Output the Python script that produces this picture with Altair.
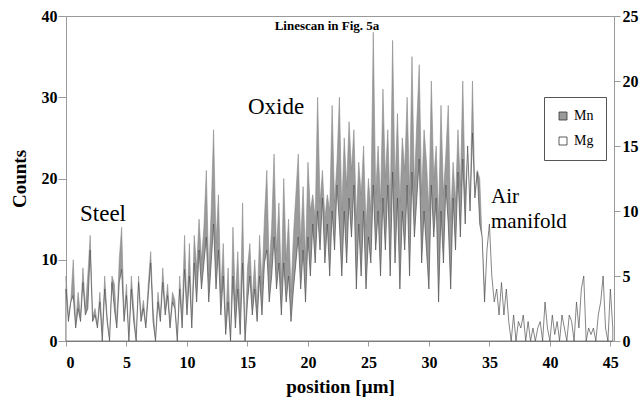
import altair as alt
import pandas as pd

# ---------------- data ----------------
STEP = 0.2  # µm between scan points

# Mn counts (left axis), positions 0.0, 0.2, 0.4 ... 45.2 µm
mn_counts = [
    8, 3, 5, 10, 2,      # 0
    6, 3, 9, 4, 8,       # 1
    13, 3, 4, 2, 6,      # 2
    1, 8, 3, 0, 8,       # 3
    7, 2, 10, 14, 3,     # 4
    7, 0, 8, 4, 0,       # 5
    8, 3, 5, 2, 7,       # 6
    11, 4, 0, 6, 3,      # 7
    9, 4, 7, 2, 6,       # 8
    5, 0, 8, 3, 13,      # 9
    4, 12, 2, 13, 9,     # 10
    15, 10, 14, 21, 8,   # 11
    16, 26, 12, 18, 6,   # 12
    12, 2, 9, 0, 14,     # 13
    5, 11, 3, 17, 0,     # 14
    9, 12, 5, 10, 4,     # 15
    13, 7, 15, 21, 9,    # 16
    14, 23, 11, 17, 7,   # 17
    20, 10, 15, 6, 13,   # 18
    18, 23, 12, 19, 10,  # 19
    22, 16, 18, 15, 30,  # 20
    17, 21, 15, 18, 16,  # 21
    29, 17, 22, 30, 16,  # 22
    25, 19, 27, 21, 26,  # 23
    15, 22, 18, 24, 14,  # 24
    20, 16, 38, 18, 24,  # 25
    17, 31, 20, 26, 16,  # 26
    37, 19, 28, 17, 25,  # 27
    21, 30, 18, 35, 19,  # 28
    27, 34, 18, 26, 22,  # 29
    16, 32, 20, 24, 15,  # 30
    29, 18, 23, 29, 15,  # 31
    22, 17, 26, 19, 32,  # 32
    18, 23, 16, 32, 18,  # 33
    21, 20, 12, 6, 3,    # 34
    3, 2, 1, 0, 0,       # 35
    0, 0, 0, 0, 0,       # 36
    0, 0, 0, 0, 0,       # 37
    0, 0, 0, 0, 0,       # 38
    0, 0, 0, 0, 0,       # 39
    0, 0, 0, 0, 0,       # 40
    0, 0, 0, 0, 0,       # 41
    0, 0, 0, 0, 0,       # 42
    0, 0, 0, 0, 0,       # 43
    0, 0, 0, 0, 0,       # 44
    0, 0,                # 45
]

# Mg counts (right axis)
mg_counts = [
    4, 1.5, 3, 3.5, 1,     # 0
    2.5, 1.5, 4.5, 2, 2.5, # 1
    7, 1.5, 2, 1, 3,       # 2
    0, 4, 1.5, 0, 4.5,     # 3
    2.5, 1, 4.5, 5.5, 1.5, # 4
    3.5, 0, 4, 1.5, 0,     # 5
    4.5, 1.5, 2.5, 1, 3.5, # 6
    6, 1.5, 0, 3, 1.5,     # 7
    4.5, 2, 3.5, 1, 3,     # 8
    2.5, 0, 4, 1, 5.5,     # 9
    2, 5, 1, 6, 3,         # 10
    7, 4, 6, 8, 3,         # 11
    6, 9, 4, 7, 2,         # 12
    5, 0.5, 3, 0, 5,       # 13
    1, 4, 0.5, 6, 0,       # 14
    3, 5, 2, 4, 1.5,       # 15
    5, 2, 6, 7, 3,         # 16
    5, 8, 4, 6, 2,         # 17
    6, 3, 5, 1.5, 4,       # 18
    6, 8, 4, 7, 3,         # 19
    8, 5, 9, 6, 10,        # 20
    7, 11, 6, 9, 5,        # 21
    10, 7, 12, 9, 5,       # 22
    10, 6, 11, 8, 12,      # 23
    4, 9, 5, 10, 4,        # 24
    8, 6, 12, 7, 10,       # 25
    5, 11, 7, 12, 5,       # 26
    13, 6, 11, 4, 10,      # 27
    7, 12, 5, 13, 8,       # 28
    11, 14, 6, 10, 7,      # 29
    4, 12, 8, 11, 3,       # 30
    10, 6, 12, 9, 4,       # 31
    11, 7, 13, 8, 14,      # 32
    9, 15, 10, 16, 11,     # 33
    13, 9, 8, 3, 7,        # 34
    9, 5, 3, 4, 2,         # 35
    4.5, 2, 4, 1.5, 0,     # 36
    2, 0, 1.5, 1, 2,       # 37
    0, 1.5, 0, 1, 0,       # 38
    1, 1.5, 0, 3, 1,       # 39
    0, 2, 0.5, 1.5, 0,     # 40
    2, 1, 0, 2, 1.5,       # 41
    0, 3, 1, 4, 5,         # 42
    0, 1, 0.5, 1, 0,       # 43
    2, 3, 5, 1, 0,         # 44
    4, 1,                  # 45
]

positions = [round(i * STEP, 1) for i in range(len(mn_counts))]

x_ticks = [0, 5, 10, 15, 20, 25, 30, 35, 40, 45]
left_ticks = [0, 10, 20, 30, 40]
right_ticks = [0, 5, 10, 15, 20, 25]

df_mn = pd.DataFrame({"position": positions, "value": mn_counts, "series": "Mn"})
df_mg = pd.DataFrame({"position": positions, "value": mg_counts, "series": "Mg"})

FONT = "Liberation Serif"
AX = "#9a9a9a"

x_enc = alt.X(
    "position:Q",
    scale=alt.Scale(domain=[0, 45.3], nice=False, zero=False),
    axis=alt.Axis(
        values=x_ticks, title="position [µm]", grid=False,
        labelFont=FONT, labelFontSize=16, labelFontWeight="bold", labelColor="black",
        titleFont=FONT, titleFontSize=19, titleFontWeight="bold", titleColor="black",
        tickSize=5, labelPadding=8, titlePadding=7,
        domainColor=AX, tickColor=AX,
    ),
)

fill_scale = alt.Scale(domain=["Mn", "Mg"], range=["#9a9a9a", "#ffffff"])
legend = alt.Legend(
    title=None, orient="none", legendX=478, legendY=81, direction="vertical",
    strokeColor="#555", fillColor="white", padding=12,
    symbolType="square", symbolSize=64, symbolStrokeColor="#333", symbolStrokeWidth=0.8,
    labelFont=FONT, labelFontSize=14, labelColor="black", rowPadding=11, labelOffset=4,
)

mn = alt.Chart(df_mn).mark_area(
    stroke="#8a8a8a", strokeWidth=0.6, interpolate="linear", opacity=1
).encode(
    x=x_enc,
    y=alt.Y(
        "value:Q",
        scale=alt.Scale(domain=[0, 40], nice=False),
        axis=alt.Axis(
            orient="left", values=left_ticks, title="Counts", grid=False,
            labelFont=FONT, labelFontSize=16, labelFontWeight="bold", labelColor="black",
            titleFont=FONT, titleFontSize=19, titleFontWeight="bold", titleColor="black",
            tickSize=8, labelPadding=1, titlePadding=12,
            domainColor=AX, tickColor=AX,
        ),
    ),
    fill=alt.Fill("series:N", scale=fill_scale, legend=legend),
)

mg = alt.Chart(df_mg).mark_area(
    stroke="#505050", strokeWidth=0.7, interpolate="linear", opacity=1
).encode(
    x=x_enc,
    y=alt.Y(
        "value:Q",
        scale=alt.Scale(domain=[0, 25], nice=False),
        axis=alt.Axis(
            orient="right", values=right_ticks, title=None, grid=False,
            labelFont=FONT, labelFontSize=16, labelFontWeight="bold", labelColor="black",
            tickSize=6, labelPadding=2,
            domainColor=AX, tickColor=AX,
        ),
    ),
    fill=alt.Fill("series:N", scale=fill_scale, legend=legend),
)

title_txt = alt.Chart(pd.DataFrame({"t": ["Linescan in Fig. 5a"]})).mark_text(
    font=FONT, fontSize=13, fontWeight="bold", color="black", align="center", baseline="middle"
).encode(text="t:N", x=alt.value(261), y=alt.value(10))

steel_txt = alt.Chart(pd.DataFrame({"t": ["Steel"]})).mark_text(
    font=FONT, fontSize=23, color="black", align="left", baseline="alphabetic"
).encode(text="t:N", x=alt.value(14), y=alt.value(205))

oxide_txt = alt.Chart(pd.DataFrame({"t": ["Oxide"]})).mark_text(
    font=FONT, fontSize=23, color="black", align="left", baseline="alphabetic"
).encode(text="t:N", x=alt.value(182), y=alt.value(98))

air_txt = alt.Chart(pd.DataFrame({"t": ["Air\nmanifold"]})).mark_text(
    font=FONT, fontSize=21, color="black", align="left", baseline="alphabetic",
    lineBreak="\n", lineHeight=25,
).encode(text="t:N", x=alt.value(425), y=alt.value(187))

chart = (
    alt.layer(mn, mg, title_txt, steel_txt, oxide_txt, air_txt)
    .resolve_scale(y="independent")
    .properties(
        width=548, height=325,
        autosize=alt.AutoSizeParams(type="none"),
        padding={"left": 66, "top": 16, "right": 27, "bottom": 59},
        background="white",
    )
    .configure_view(stroke=AX, strokeWidth=1)
)

chart.save("out.html", embed_options={"renderer": "svg", "actions": False})
